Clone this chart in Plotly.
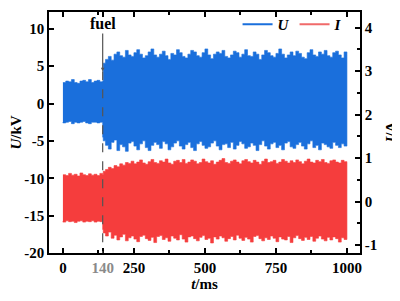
import plotly.graph_objects as go

# envelope of the dense oscillation (peaks / troughs)
t_pre = [0, 10, 20, 30, 40, 50, 60, 70, 80, 90, 100, 110, 120, 130, 140]
t_post = [142] + list(range(150, 1001, 10))

u_up_pre = [2.8, 3.0, 2.9, 3.2, 2.8, 2.7, 3.0, 3.1, 2.9, 3.2, 2.8, 3.0, 3.1, 2.9, 3.0]
u_lo_pre = [-2.5, -2.6, -2.5, -2.4, -2.7, -2.5, -2.6, -2.5, -2.4, -2.6, -2.7, -2.5, -2.5, -2.6, -2.5]

u_up_post = [5.4, 5.9, 6.3, 5.8, 6.6, 6.9, 6.4, 6.2, 7.1, 6.5,
             6.3, 6.8, 7.2, 6.6, 6.1, 6.4, 6.9, 7.3, 6.5, 6.2,
             6.6, 7.0, 6.4, 5.9, 6.7, 6.5, 7.2, 6.8, 6.3, 6.1,
             6.6, 7.1, 6.9, 6.4, 6.2, 6.8, 7.3, 6.5, 6.0, 6.6,
             6.9, 6.7, 7.1, 6.3, 6.1, 6.5, 7.0, 6.8, 6.2, 6.6,
             7.2, 6.4, 6.3, 6.9, 6.6, 5.9, 6.5, 7.1, 6.8, 6.4,
             6.2, 6.7, 7.3, 6.6, 6.1, 6.5, 6.9, 6.4, 7.0, 6.7,
             6.2, 6.0, 6.8, 7.2, 6.5, 6.3, 6.9, 6.6, 7.1, 6.4,
             6.2, 6.8, 7.0, 6.5, 6.1, 6.9, 6.6]
u_lo_post = [-4.5, -5.0, -5.6, -6.1, -5.2, -4.9, -6.3, -5.5, -5.8, -6.4,
             -5.3, -5.1, -5.7, -6.2, -5.4, -5.0, -5.9, -6.3, -5.6, -5.2,
             -5.5, -6.0, -5.1, -5.4, -6.2, -5.8, -5.3, -5.0, -5.7, -6.1,
             -5.5, -5.2, -5.9, -6.3, -5.4, -5.1, -5.6, -6.0, -5.8, -5.3,
             -5.0, -5.7, -6.2, -5.5, -5.4, -5.9, -5.2, -6.1, -5.6, -5.1,
             -5.4, -6.0, -5.8, -5.3, -5.6, -6.3, -5.5, -5.0, -5.7, -6.1,
             -5.4, -5.2, -5.9, -5.6, -6.2, -5.3, -5.1, -5.8, -6.0, -5.5,
             -5.2, -5.7, -6.1, -5.4, -5.0, -5.9, -5.6, -6.2, -5.3, -5.5,
             -5.8, -6.0, -5.2, -5.6, -5.9, -5.4, -5.7]

i_up_pre = [0.62, 0.60, 0.65, 0.61, 0.63, 0.59, 0.66, 0.62, 0.60, 0.64, 0.61, 0.63, 0.60, 0.65, 0.62]
i_lo_pre = [-0.45, -0.47, -0.44, -0.46, -0.45, -0.48, -0.45, -0.44, -0.47, -0.45, -0.46, -0.44, -0.47, -0.45, -0.46]

i_up_post = [0.70, 0.74, 0.79, 0.76, 0.83, 0.80, 0.87, 0.84, 0.90, 0.88,
             0.93, 0.87, 0.91, 0.96, 0.89, 0.86, 0.92, 0.97, 0.90, 0.88,
             0.94, 0.91, 0.98, 0.89, 0.86, 0.93, 0.95, 0.90, 0.97, 0.88,
             0.91, 0.96, 0.93, 0.87, 0.90, 0.98, 0.92, 0.89, 0.94, 0.86,
             0.91, 0.95, 0.99, 0.90, 0.88, 0.93, 0.96, 0.91, 0.87, 0.94,
             0.97, 0.92, 0.89, 0.95, 0.91, 0.86, 0.93, 0.98, 0.90, 0.92,
             0.95, 0.88, 0.91, 0.97, 0.93, 0.89, 0.94, 0.90, 0.96, 0.92,
             0.87, 0.93, 0.98, 0.91, 0.89, 0.95, 0.92, 0.97, 0.90, 0.88,
             0.94, 0.96, 0.91, 0.89, 0.95, 0.92, 0.90]
i_lo_post = [-0.64, -0.72, -0.79, -0.70, -0.84, -0.77, -0.88, -0.81, -0.75, -0.90,
             -0.83, -0.79, -0.86, -0.92, -0.80, -0.77, -0.85, -0.89, -0.82, -0.94,
             -0.80, -0.78, -0.87, -0.83, -0.91, -0.79, -0.84, -0.88, -0.76, -0.86,
             -0.93, -0.81, -0.79, -0.85, -0.90, -0.82, -0.78, -0.87, -0.84, -0.95,
             -0.81, -0.86, -0.79, -0.83, -0.91, -0.85, -0.80, -0.88, -0.77, -0.84,
             -0.89, -0.82, -0.86, -0.93, -0.80, -0.78, -0.85, -0.90, -0.83, -0.87,
             -0.79, -0.84, -0.92, -0.81, -0.86, -0.88, -0.80, -0.94, -0.83, -0.78,
             -0.85, -0.89, -0.82, -0.87, -0.80, -0.91, -0.84, -0.79, -0.86, -0.90,
             -0.82, -0.88, -0.81, -0.85, -0.93, -0.83, -0.87]

x_ticks = [0, 140, 250, 500, 750, 1000]
x_labels = ['<b>0</b>', '<span style="color:#8a8a8a">140</span>', '<b>250</b>',
            '<b>500</b>', '<b>750</b>', '<b>1000</b>']
u_ticks = [-20, -15, -10, -5, 0, 5, 10]
i_ticks = [-1, 0, 1, 2, 3, 4]

blue = '#1a6fdc'
red = '#f53d3d'
font = 'Liberation Serif'

t_all = t_pre + t_post
poly_x = t_all + t_all[::-1]
u_poly = u_up_pre + u_up_post + (u_lo_pre + u_lo_post)[::-1]
i_poly = i_up_pre + i_up_post + (i_lo_pre + i_lo_post)[::-1]

fig = go.Figure()
fig.add_trace(go.Scatter(x=poly_x, y=u_poly, fill='toself', fillcolor=blue,
                         mode='lines', line=dict(color=blue, width=0.6, shape='hv'),
                         showlegend=False, hoverinfo='skip'))
fig.add_trace(go.Scatter(x=poly_x, y=i_poly, fill='toself', fillcolor=red,
                         mode='lines', line=dict(color=red, width=0.6, shape='hv'),
                         showlegend=False, hoverinfo='skip', yaxis='y2'))
# legend entries
fig.add_trace(go.Scatter(x=[None], y=[None], mode='lines', name='<b><i>U</i></b>',
                         line=dict(color=blue, width=2)))
fig.add_trace(go.Scatter(x=[None], y=[None], mode='lines', name='<b><i>I</i></b>',
                         line=dict(color='#f06a6a', width=2), yaxis='y2'))

axis_common = dict(showline=True, linecolor='black', linewidth=1.5, ticks='inside',
                   ticklen=5, tickwidth=1.5, tickcolor='black', showgrid=False,
                   zeroline=False, automargin=False,
                   tickfont=dict(family=font, size=15, color='black', weight='bold'))

# page body adds an 8px offset, so the figure is 392x293
fig.update_layout(
    width=392, height=293,
    margin=dict(l=41, r=40, t=0, b=48),
    paper_bgcolor='white', plot_bgcolor='white',
    font=dict(family=font, size=15, color='black'),
    xaxis=dict(range=[-49, 1046], tickmode='array', tickvals=x_ticks, ticktext=x_labels,
               mirror='ticks',
               minor=dict(tickmode='array', tickvals=[125, 375, 625, 875], ticks='inside',
                          ticklen=3, tickcolor='black'),
               title=dict(text='<b><i>t</i>/ms</b>', font=dict(family=font, size=15), standoff=4),
               **axis_common),
    yaxis=dict(range=[-20, 12.24], tickmode='array', tickvals=u_ticks,
               ticktext=['<b>%d</b>' % v for v in u_ticks],
               title=dict(text='<b><i>U</i>/kV</b>', font=dict(family=font, size=15), standoff=4),
               **axis_common),
    yaxis2=dict(range=[-1.18, 4.36], overlaying='y', side='right', tickmode='array',
                tickvals=i_ticks, ticktext=['<b>%d</b>' % v for v in i_ticks],
                minor=dict(tickmode='linear', tick0=0, dtick=0.5, ticks='inside',
                           ticklen=3, tickcolor='black'),
                **axis_common),
    legend=dict(orientation='h', x=0.96, xanchor='right', y=0.95, yanchor='middle',
                bgcolor='rgba(0,0,0,0)', font=dict(family=font, size=15),
                itemwidth=30, tracegroupgap=0),
)

fig.add_annotation(x=1, y=0.5, xref='paper', yref='paper', xanchor='center', yanchor='middle',
                   xshift=30, textangle=-90, showarrow=False,
                   text='<b><i>I</i>/A</b>', font=dict(family=font, size=15, color='black'))
fig.add_shape(type='line', x0=140, x1=140, y0=4.3, y1=-20, xref='x', yref='y',
              line=dict(color='#555555', width=1.2, dash='dash'))
fig.add_annotation(x=140, y=4.3, ax=140, ay=10.7, axref='x', ayref='y', xref='x', yref='y',
                   text='<b>fuel</b>', showarrow=True, arrowhead=2, arrowsize=0.6,
                   arrowwidth=1.2, arrowcolor='#555555',
                   font=dict(family=font, size=16, color='black'))

fig.write_html("out.html")
